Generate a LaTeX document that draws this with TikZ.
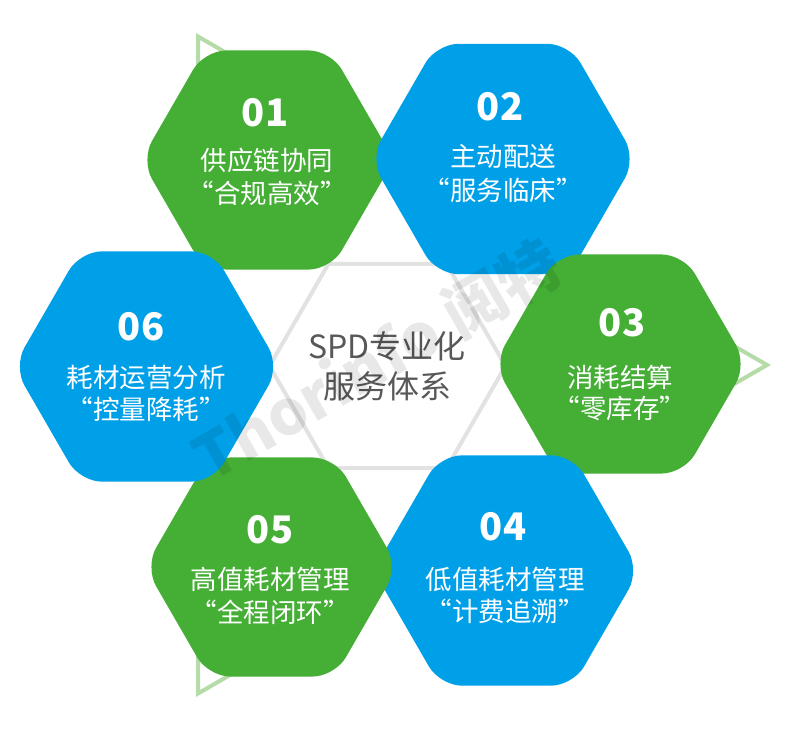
\documentclass[tikz,border=0pt]{standalone}
\usepackage{fontspec}
\setmainfont{Noto Sans CJK SC}
\usetikzlibrary{shapes.geometric}
\definecolor{hexgreen}{HTML}{44AE35}
\definecolor{hexblue}{HTML}{00A0E9}
\definecolor{trigreen}{HTML}{B5DBA8}
\definecolor{centergray}{HTML}{E2E2E2}
\definecolor{centertext}{HTML}{595757}
\tikzset{
  hexbase/.style={shape=regular polygon,regular polygon sides=6,inner sep=0pt,outer sep=0pt,
    rounded corners=22pt},
  greenhex/.style={hexbase,fill=hexgreen,minimum size=253pt},
  bluehex/.style={hexbase,fill=hexblue,minimum size=266pt},
  numtext/.style={text=white,font=\fontsize{38}{38}\selectfont\bfseries},
  linetext/.style={text=white,font=\fontsize{26.5}{26.5}\selectfont,inner sep=0pt},
}
\begin{document}
\begin{tikzpicture}[x=1pt,y=-1pt]
\useasboundingbox (0,0) rectangle (800,738);

% Background triangle
\coordinate (T1) at (198,36.5);
\coordinate (T2) at (767,365);
\coordinate (T3) at (198,693.5);
\draw[trigreen,line width=4pt] (T1) -- (T2) -- (T3) -- cycle;

% Center
\node[shape=regular polygon,regular polygon sides=6,draw=centergray,line width=4pt,
  minimum size=236pt,inner sep=0pt] (hexc) at (387.5,366) {};
\node[text=centertext,font=\fontsize{32}{40}\selectfont,align=center] (titlec) at (387,366)
  {SPD专业化\\服务体系};

% Hexagons
\node[greenhex] (hex1) at (267.5,160) {};
\node[bluehex] (hex2) at (503,159) {};
\node[greenhex] (hex3) at (620.5,364) {};
\node[bluehex] (hex4) at (506.5,570.5) {};
\node[greenhex] (hex5) at (271.5,567) {};
\node[bluehex] (hex6) at (146.5,366.5) {};

% 01
\node[numtext] (num1) at (265,113) {01};
\node[linetext] (a1) at (267,160) {供应链协同};
\node[linetext] (b1) at (267,193) {“合规高效”};
% 02
\node[numtext] (num2) at (500,107) {02};
\node[linetext] (a2) at (503,156) {主动配送};
\node[linetext] (b2) at (503,190) {“服务临床”};
% 03
\node[numtext] (num3) at (622,323) {03};
\node[linetext] (a3) at (620,377) {消耗结算};
\node[linetext] (b3) at (620,408) {“零库存”};
% 04
\node[numtext] (num4) at (503,527) {04};
\node[linetext] (a4) at (505,579) {低值耗材管理};
\node[linetext] (b4) at (505,611) {“计费追溯”};
% 05
\node[numtext] (num5) at (270,530) {05};
\node[linetext] (a5) at (270,579) {高值耗材管理};
\node[linetext] (b5) at (270,612) {“全程闭环”};
% 06
\node[numtext] (num6) at (141,327) {06};
\node[linetext] (a6) at (146,377) {耗材运营分析};
\node[linetext] (b6) at (146,409) {“控量降耗”};

% Watermark
\node[text=black,opacity=.09,rotate=30,font=\fontsize{62}{62}\selectfont\bfseries,inner sep=0pt]
  (mark) at (377,360) {Thorinfo 阅特};
\end{tikzpicture}
\end{document}
